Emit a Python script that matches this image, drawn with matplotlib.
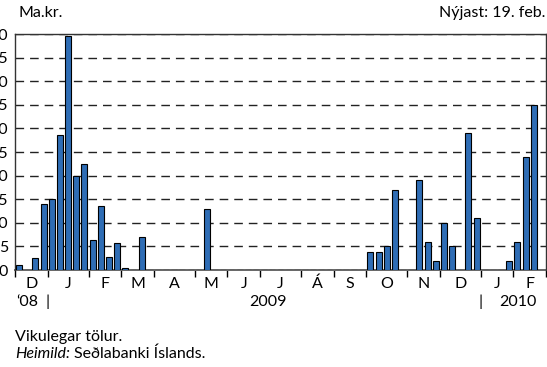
import matplotlib
matplotlib.use("Agg")
import matplotlib.pyplot as plt
from matplotlib.ticker import FixedLocator, NullFormatter

plt.rcParams['font.family'] = ['Lato', 'DejaVu Sans']

# Weekly values (ma.kr.), late Nov 2008 - 19 Feb 2010
values = [1.1, 0, 2.5, 14, 15, 28.5, 49.5, 20, 22.5, 6.3,
          13.6, 2.8, 5.7, 0.5, 0, 7, 0, 0, 0, 0,
          0, 0, 0, 13, 0, 0, 0, 0, 0, 0,
          0, 0, 0, 0, 0, 0, 0, 0, 0, 0,
          0, 0, 0, 3.9, 3.9, 5, 17, 0, 0, 19,
          6, 2, 10, 5, 0, 29, 11, 0, 0, 0,
          2, 6, 24, 35]
n_slots = 65
month_bounds = [0, 4, 9, 13, 17, 22, 26, 30, 35, 39, 43, 48, 52, 57, 61, 65]
month_labels = ['D', 'J', 'F', 'M', 'A', 'M', 'J', 'J', 'Á', 'S', 'O', 'N', 'D', 'J', 'F']
year_labels = ['\u201808', '2009', '2010']
y_ticks = [0, 5, 10, 15, 20, 25, 30, 35, 40, 45, 50]

FS = 11.5
W, H = 547, 367
fig = plt.figure(figsize=(W / 100, H / 100), dpi=100)
L, R, T, B = 15, 546, 34, 270
ax = fig.add_axes([L / W, 1 - B / H, (R - L) / W, (B - T) / H])

x = list(range(len(values)))
ax.bar(x, values, width=0.73, color='#2f6db5', edgecolor='black', linewidth=0.8, zorder=3)

ax.set_xlim(-0.5, n_slots - 0.5)
ax.set_ylim(0, 50)
ax.set_yticks(y_ticks)
ax.yaxis.grid(True, color='#222222', linewidth=1.0, linestyle=(0, (6.2, 4.3)), zorder=1)
ax.tick_params(axis='y', length=0, pad=5, labelsize=FS)

ax.xaxis.set_major_locator(FixedLocator([b - 0.5 for b in month_bounds]))
ax.xaxis.set_major_formatter(NullFormatter())
ax.tick_params(axis='x', direction='out', length=5, width=1.0, color='black')

for s in ['top', 'left', 'right']:
    ax.spines[s].set_color('#333333')
    ax.spines[s].set_linewidth(1.0)
ax.spines['bottom'].set_color('#666666')
ax.spines['bottom'].set_linewidth(1.4)
ax.spines['bottom'].set_zorder(2)

# month labels
for i, lab in enumerate(month_labels):
    c = (month_bounds[i] + month_bounds[i + 1]) / 2 - 0.5
    ax.text(c, -3.0, lab, ha='center', va='center', fontsize=FS, clip_on=False)

# year row
ytxt = -6.7
ax.text(1.0, ytxt, year_labels[0], ha='center', va='center', fontsize=FS, clip_on=False)
ax.text(30.5, ytxt, year_labels[1], ha='center', va='center', fontsize=FS, clip_on=False)
ax.text(61.0, ytxt, year_labels[2], ha='center', va='center', fontsize=FS, clip_on=False)
for b in [4, 57]:
    ax.text(b - 0.5, ytxt, '|', ha='center', va='center', fontsize=FS, clip_on=False)

fig.text(18 / W, 1 - 13 / H, 'Ma.kr.', ha='left', va='center', fontsize=FS)
fig.text(545 / W, 1 - 13 / H, 'Nýjast: 19. feb.', ha='right', va='center', fontsize=FS)
fig.text(15 / W, 1 - 337 / H, 'Vikulegar tölur.', ha='left', va='center', fontsize=FS)
t1 = fig.text(15 / W, 1 - 354 / H, 'Heimild:', ha='left', va='center', fontsize=FS, style='italic')
fig.canvas.draw()
bb = t1.get_window_extent()
fig.text(bb.x1 / W + 4 / W, 1 - 354 / H, 'Seðlabanki Íslands.', ha='left', va='center', fontsize=FS)

fig.savefig('out.png', dpi=100)
